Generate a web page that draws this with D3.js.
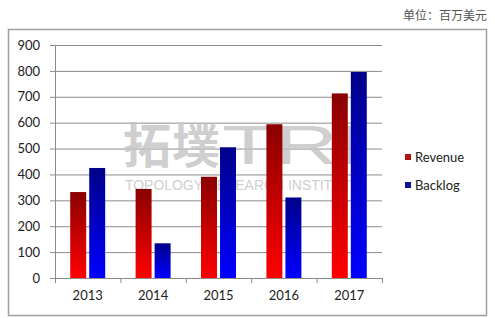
<!DOCTYPE html>
<html>
<head>
<meta charset="utf-8">
<script src="https://cdn.jsdelivr.net/npm/d3@7"></script>
<style>
  body { margin: 0; background: #fff; }
  text { font-family: Lato, "Open Sans", sans-serif; }
</style>
</head>
<body>
<div id="chart"></div>
<script>
// chart data
let years = ["2013", "2014", "2015", "2016", "2017"];
let revenue = [332, 344, 391, 594, 713];
let backlog = [425, 134, 505, 311, 796];
let yTicks = [0, 100, 200, 300, 400, 500, 600, 700, 800, 900];
let seriesNames = ["Revenue", "Backlog"];

let width = 495, height = 318;
let margin = {top: 45, left: 55, right: 113, bottom: 40};
let chartWidth = width - margin.left - margin.right;
let chartHeight = height - margin.top - margin.bottom;

let svg = d3.select("#chart").append("svg")
    .attr("width", width)
    .attr("height", height);

// gradients
let defs = svg.append("defs");
let grads = [["redGrad", "#8a0000", "#ff0000"], ["blueGrad", "#00008a", "#0000ff"]];
grads.forEach(g => {
    let lg = defs.append("linearGradient").attr("id", g[0])
        .attr("x1", 0).attr("y1", 0).attr("x2", 0).attr("y2", 1);
    lg.append("stop").attr("offset", "0%").attr("stop-color", g[1]);
    lg.append("stop").attr("offset", "100%").attr("stop-color", g[2]);
});

// unit label
svg.append("text")
    .attr("x", 487).attr("y", 20)
    .attr("text-anchor", "end")
    .attr("font-size", "12px")
    .attr("fill", "#555")
    .style("font-family", "'Noto Sans CJK SC', sans-serif")
    .text("单位：百万美元");

// outer frame
svg.append("rect")
    .attr("x", 8.5).attr("y", 29.5)
    .attr("width", 478).attr("height", 286)
    .attr("fill", "none")
    .attr("stroke", "#a0a0a0")
    .attr("stroke-width", 1.5);

let chartGroup = svg.append("g").attr("transform", `translate(${margin.left}, ${margin.top})`);

let xScale = d3.scaleBand().domain(years).range([0, chartWidth]);
let yScale = d3.scaleLinear().domain([0, 900]).range([chartHeight, 0]);

// gridlines
chartGroup.append("g")
    .selectAll("line")
    .data(yTicks.slice(1))
    .enter().append("line")
    .attr("x1", 0).attr("x2", chartWidth)
    .attr("y1", d => yScale(d) + 0.5).attr("y2", d => yScale(d) + 0.5)
    .attr("stroke", "#8c8c8c");

// watermark (sits under the bars)
let wm = chartGroup.append("g")
    .attr("transform", `translate(${-margin.left}, ${-margin.top})`)
    .attr("fill", "#c4c4c4").attr("opacity", 0.8);
wm.append("text")
    .attr("x", 123).attr("y", 163)
    .attr("font-size", "48px").attr("font-weight", "bold")
    .attr("textLength", 97)
    .style("font-family", "'Noto Sans CJK SC', sans-serif")
    .text("拓墣");
wm.append("text")
    .attr("x", 222).attr("y", 164)
    .attr("font-size", "56px")
    .attr("textLength", 140)
    .attr("lengthAdjust", "spacingAndGlyphs")
    .style("font-family", "'Liberation Sans', sans-serif")
    .text("TRI");
wm.append("text")
    .attr("x", 125).attr("y", 190)
    .attr("font-size", "15px")
    .attr("textLength", 235)
    .attr("lengthAdjust", "spacingAndGlyphs")
    .style("font-family", "'Liberation Sans', sans-serif")
    .text("TOPOLOGY RESEARCH INSTITUTE");

// y axis
let yAxis = d3.axisLeft(yScale).tickValues(yTicks).tickSize(5).tickPadding(10);
let yg = chartGroup.append("g").call(yAxis);
yg.select(".domain").attr("stroke", "#8c8c8c");
yg.selectAll(".tick line").attr("stroke", "#8c8c8c");
yg.selectAll("text").attr("font-size", "13px").attr("fill", "#222");

// x axis
let xAxis = d3.axisBottom(xScale).tickSize(0).tickPadding(13);
let xg = chartGroup.append("g")
    .attr("transform", `translate(0, ${chartHeight})`)
    .call(xAxis);
xg.select(".domain").attr("stroke", "#8c8c8c").attr("d", `M0,0.5H${chartWidth}`);
xg.selectAll("text").attr("font-size", "13px").attr("fill", "#222");
xg.selectAll(".sep")
    .data(d3.range(years.length + 1))
    .enter().append("line")
    .attr("class", "sep")
    .attr("x1", i => i * xScale.bandwidth() + 0.5)
    .attr("x2", i => i * xScale.bandwidth() + 0.5)
    .attr("y1", 0).attr("y2", 5)
    .attr("stroke", "#8c8c8c");

// bars
let inner = d3.scaleBand().domain(seriesNames).range([0, xScale.bandwidth()]).paddingInner(0.16).paddingOuter(0.8);
let allSeries = [revenue, backlog];
allSeries.forEach((vals, s) => {
    chartGroup.append("g")
        .selectAll("rect")
        .data(vals)
        .enter().append("rect")
        .attr("x", (d, i) => xScale(years[i]) + inner(seriesNames[s]))
        .attr("y", d => yScale(d))
        .attr("width", inner.bandwidth())
        .attr("height", d => chartHeight - yScale(d))
        .attr("fill", s === 0 ? "url(#redGrad)" : "url(#blueGrad)");
});

// legend
let legendColors = ["#b01010", "#10109a"];
let legend = svg.append("g").attr("transform", "translate(405, 158)");
seriesNames.forEach((name, i) => {
    legend.append("rect")
        .attr("x", 0).attr("y", i * 28 - 4)
        .attr("width", 6).attr("height", 6)
        .attr("fill", legendColors[i]);
    legend.append("text")
        .attr("x", 10).attr("y", i * 28 + 4)
        .attr("font-size", "13px")
        .attr("fill", "#222")
        .text(name);
});
</script>
</body>
</html>
